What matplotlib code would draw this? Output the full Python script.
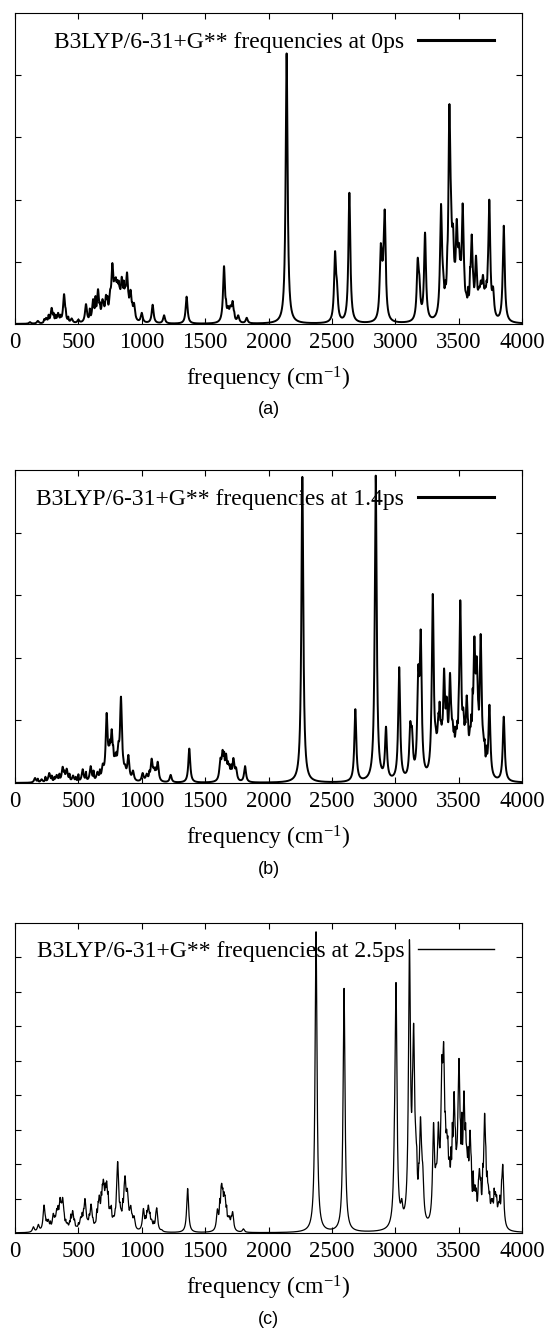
import numpy as np
import matplotlib
matplotlib.use('Agg')
import matplotlib.pyplot as plt

plt.rcParams['font.family'] = 'Liberation Serif'
plt.rcParams['mathtext.default'] = 'regular'

# main peak positions (cm-1) and heights
freq_a = [118, 180, 245, 289, 340, 387, 447, 500, 560, 616, 655, 690, 718, 750,
          768, 789, 806, 825, 842, 868, 884, 912, 939, 1000, 1086, 1176, 1354,
          1649, 1681, 1700, 1717, 1761, 1828, 2143, 2525, 2540, 2638, 2885, 2901,
          2917, 3177, 3190, 3235, 3361, 3377, 3427, 3440, 3456, 3485, 3503, 3532,
          3560, 3603, 3637, 3660, 3675, 3692, 3710, 3742, 3772, 3856]
inten_a = [0.03, 0.05, 0.1, 0.26, 0.18, 0.48, 0.09, 0.07, 0.32, 0.4, 0.56, 0.4, 0.47, 0.55,
           0.98, 0.74, 0.71, 0.6, 0.76, 0.6, 0.83, 0.55, 0.34, 0.18, 0.31, 0.14, 0.44,
           0.93, 0.29, 0.3, 0.37, 0.14, 0.1, 4.35, 1.17, 0.7, 2.11, 1.29, 1.03,
           1.84, 1.06, 0.8, 1.47, 1.93, 0.9, 3.53, 2.1, 1.6, 1.69, 1.3, 1.94,
           0.5, 1.44, 1.1, 0.6, 0.7, 0.79, 0.6, 2.0, 0.6, 1.58]
# narrow spikes giving the ragged look of the dense bands
fine_freq_a = [230, 265, 305, 320, 360, 400, 420, 590, 635, 670, 700, 730, 775, 782,
               796, 813, 818, 832, 850, 858, 876, 895, 903, 925, 1665, 1695, 1730,
               2893, 2908, 3395, 3410, 3470, 3515, 3545, 3575, 3590, 3615, 3625,
               3650, 3667, 3685, 3700, 3720, 3730]
fine_inten_a = [0.08, 0.15, 0.18, 0.15, 0.15, 0.25, 0.12, 0.25, 0.45, 0.35, 0.35, 0.45, 0.8, 0.7,
                0.75, 0.65, 0.7, 0.55, 0.65, 0.7, 0.6, 0.5, 0.45, 0.35, 0.4, 0.28, 0.2,
                1.2, 1.3, 0.7, 1.2, 1.0, 1.1, 0.9, 0.6, 0.9, 0.8, 0.5,
                0.55, 0.45, 0.65, 0.5, 0.7, 1.0]

freq_b = [158, 210, 270, 329, 376, 408, 458, 534, 597, 650, 692, 723, 742, 763,
          789, 815, 836, 868, 894, 931, 1007, 1039, 1078, 1097, 1126, 1228, 1375,
          1620, 1638, 1665, 1690, 1723, 1744, 1815, 2267, 2685, 2846, 2927, 3031,
          3118, 3132, 3182, 3201, 3296, 3319, 3340, 3360, 3385, 3406, 3432, 3453,
          3479, 3513, 3537, 3564, 3590, 3624, 3643, 3674, 3695, 3743, 3856]
inten_b = [0.08, 0.06, 0.16, 0.13, 0.26, 0.23, 0.12, 0.22, 0.27, 0.18, 0.31, 1.12, 0.6, 0.86,
           0.47, 0.66, 1.38, 0.3, 0.45, 0.2, 0.16, 0.15, 0.39, 0.25, 0.34, 0.13, 0.55,
           0.4, 0.53, 0.47, 0.3, 0.4, 0.25, 0.27, 4.89, 1.18, 4.91, 0.9, 1.85,
           0.98, 0.9, 1.89, 2.45, 3.02, 0.9, 1.12, 1.0, 1.83, 1.38, 1.76, 1.0,
           0.9, 2.92, 1.2, 1.4, 0.9, 2.34, 2.02, 2.38, 0.8, 1.25, 1.06]
fine_freq_b = [180, 240, 290, 310, 350, 390, 430, 480, 500, 560, 620, 670, 710, 730,
               750, 775, 800, 825, 845, 855, 1060, 1110, 1650, 1680, 1705, 3175, 3190,
               3310, 3328, 3350, 3370, 3395, 3420, 3443, 3465, 3490, 3500, 3525, 3550,
               3575, 3600, 3610, 3632, 3655, 3665, 3685, 3705, 3720]
fine_inten_b = [0.07, 0.1, 0.12, 0.1, 0.15, 0.2, 0.15, 0.1, 0.14, 0.18, 0.2, 0.22, 0.35, 0.8,
                0.7, 0.6, 0.5, 0.7, 0.8, 0.4, 0.2, 0.25, 0.5, 0.35, 0.3, 1.4, 1.6,
                1.0, 0.8, 1.3, 1.0, 1.1, 1.0, 1.2, 0.9, 1.0, 1.4, 0.9, 1.0,
                1.0, 1.1, 1.5, 1.5, 1.3, 1.4, 1.0, 0.7, 0.6]

freq_c = [145, 184, 229, 263, 302, 329, 355, 376, 413, 455, 486, 518, 552, 573,
          600, 631, 665, 697, 723, 750, 776, 810, 836, 868, 886, 913, 939, 1013,
          1052, 1078, 1118, 1157, 1362, 1597, 1631, 1657, 1690, 1717, 1802, 2375,
          2596, 2994, 3006, 3051, 3112, 3124, 3145, 3162, 3199, 3217, 3302, 3322,
          3340, 3367, 3382, 3406, 3427, 3464, 3485, 3503, 3542, 3564, 3590, 3629,
          3664, 3705, 3734, 3760, 3790, 3815, 3848]
inten_c = [0.18, 0.25, 0.81, 0.4, 0.57, 0.71, 1.03, 1.03, 0.3, 0.65, 0.2, 0.47, 1.0, 0.4,
           0.84, 0.3, 1.1, 1.56, 1.51, 0.76, 0.5, 2.07, 0.7, 1.66, 1.29, 0.8, 0.5, 0.71,
           0.81, 0.4, 0.73, 0.1, 1.29, 0.7, 1.44, 1.1, 0.5, 0.62, 0.12, 8.73,
           7.09, 3.5, 7.26, 1.0, 8.5, 4.05, 6.08, 3.0, 3.37, 2.0, 3.2, 2.0,
           3.22, 5.11, 5.52, 3.0, 2.2, 4.1, 2.5, 5.06, 4.12, 2.5, 2.98, 1.4,
           1.87, 3.47, 1.4, 1.0, 1.2, 0.9, 1.99]
fine_freq_c = [240, 250, 280, 315, 340, 365, 388, 400, 430, 440, 470, 500, 530, 540,
               562, 585, 615, 645, 655, 680, 688, 705, 712, 735, 760, 790, 800, 820,
               828, 850, 860, 877, 895, 905, 925, 1030, 1040, 1065, 1095, 1110, 1615,
               1625, 1640, 1648, 1670, 1680, 1705, 3135, 3155, 3170, 3185, 3208, 3350,
               3395, 3415, 3440, 3450, 3475, 3495, 3515, 3525, 3555, 3575, 3600, 3615,
               3640, 3655, 3675, 3690, 3715, 3725, 3745, 3770, 3780, 3800, 3825, 3838]
fine_inten_c = [0.5, 0.4, 0.35, 0.5, 0.8, 0.9, 0.6, 0.4, 0.35, 0.55, 0.4, 0.3, 0.6, 0.7,
                0.6, 0.55, 0.45, 0.7, 0.9, 1.2, 1.4, 1.3, 1.45, 1.2, 0.8, 0.7, 1.2, 1.1,
                0.9, 1.0, 1.3, 1.2, 0.9, 0.7, 0.55, 0.5, 0.65, 0.6, 0.35, 0.55, 1.0,
                1.3, 1.3, 1.2, 0.8, 0.5, 0.5, 4.5, 3.5, 2.5, 2.0, 2.5, 2.5,
                3.5, 2.8, 2.5, 3.2, 3.0, 3.8, 3.2, 3.5, 3.2, 2.5, 2.2, 1.8,
                1.3, 1.5, 1.6, 2.0, 2.5, 1.8, 1.2, 1.0, 1.3, 1.1, 1.1, 1.5]

times = ['0ps', '1.4ps', '2.5ps']
captions = ['(a)', '(b)', '(c)']
y_tops = [5, 5, 9]
line_widths = [1.4, 1.4, 0.9]
key_widths = [2.2, 2.2, 1.0]
panels = [(freq_a, inten_a, fine_freq_a, fine_inten_a),
          (freq_b, inten_b, fine_freq_b, fine_inten_b),
          (freq_c, inten_c, fine_freq_c, fine_inten_c)]

# axes box in pixels (top, bottom) for each panel
boxes = [(13, 324), (470, 783), (922.5, 1233)]
W, H = 549, 1343
left_px, right_px = 15, 522


def spectrum(f0, h, gam, x):
    # lorentzian broadening; amplitudes rescaled so the sum meets the read peak heights
    f0 = np.asarray(f0, float)
    h = np.asarray(h, float)
    gam = np.asarray(gam, float)
    K = 1.0 / (1.0 + ((f0[:, None] - f0[None, :]) / gam[None, :]) ** 2)
    amp = h.copy()
    for _ in range(200):
        amp *= h / (K @ amp)
    return (amp[None, :] / (1.0 + ((x[:, None] - f0[None, :]) / gam[None, :]) ** 2)).sum(axis=1)


x = np.linspace(0, 4000, 8001)

fig = plt.figure(figsize=(W / 100, H / 100), dpi=100)

for i, (f0, h, ff, fh) in enumerate(panels):
    top, bot = boxes[i]
    hpx = bot - top
    ax = fig.add_axes([left_px / W, 1 - bot / H, (right_px - left_px) / W, hpx / H])
    gam = [9.0] * len(f0) + [3.5] * len(ff)
    y = spectrum(list(f0) + list(ff), list(h) + list(fh), gam, x)
    ax.plot(x, y, color='black', lw=line_widths[i],
            label='B3LYP/6-31+G** frequencies at ' + times[i])
    ax.set_xlim(0, 4000)
    ax.set_ylim(0, y_tops[i])
    ax.set_xticks(range(0, 4001, 500))
    ax.set_yticks(range(1, y_tops[i]))
    ax.tick_params(direction='in', length=4.5, width=0.8, top=True, right=True,
                   labelleft=False, labelsize=16.5, pad=5.5)
    for s in ax.spines.values():
        s.set_linewidth(0.8)

    leg = ax.legend(loc='center right',
                    bbox_to_anchor=((494 - left_px) / (right_px - left_px), 1 - 29 / hpx),
                    frameon=False, markerfirst=False, handlelength=3.2, handletextpad=0.6,
                    borderpad=0, borderaxespad=0, fontsize=17)
    leg.get_lines()[0].set_linewidth(key_widths[i])

    ax.set_xlabel('frequency (cm$^{-1}$)', fontsize=17, va='center')
    ax.xaxis.set_label_coords(0.5, -55 / hpx)
    ax.text(0.5, -86 / hpx, captions[i], transform=ax.transAxes, ha='center', va='center',
            family='Liberation Sans', fontsize=13)

fig.savefig('out.png', dpi=100)
